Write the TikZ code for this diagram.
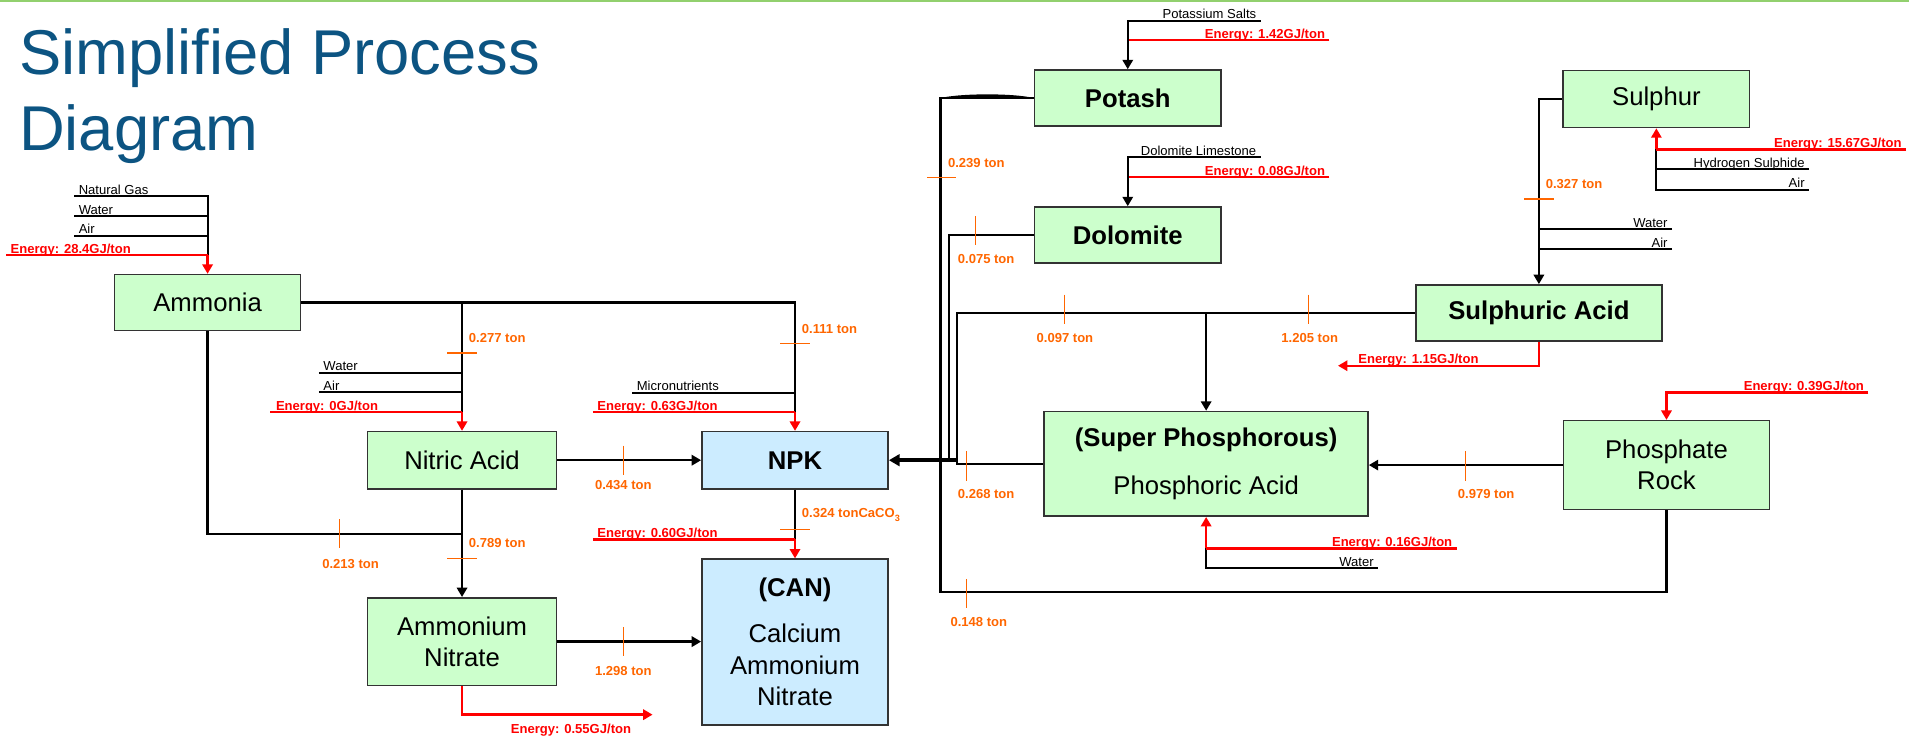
\documentclass[tikz,border=0pt]{standalone}
\usepackage{fontspec}
\setmainfont{Liberation Sans}
\usetikzlibrary{arrows.meta}
\definecolor{unitgreen}{RGB}{204,255,204}
\definecolor{prodblue}{RGB}{204,236,255}
\definecolor{tonorange}{RGB}{255,102,0}
\definecolor{titleblue}{RGB}{12,84,130}
\definecolor{slidegreen}{RGB}{146,208,110}
\newcommand{\boxfont}{\fontsize{6}{7.2}\selectfont}
\newcommand{\smallfont}{\fontsize{3.05}{3.6}\selectfont}
\tikzset{
  unitbox/.style={draw=black!80, line width=0.35pt, fill=unitgreen, minimum width=15.3mm,
    minimum height=4.6mm, inner sep=0pt, align=center, font=\boxfont},
  productbox/.style={unitbox, fill=prodblue},
  flow/.style={line width=0.55pt},
  busline/.style={line width=0.85pt, -{Triangle[length=2.5pt,width=2.7pt]}},
  feed/.style={line width=0.45pt},
  energy/.style={red, line width=0.55pt},
  arrowed/.style={-{Triangle[length=2.2pt,width=2.4pt]}},
  feedlabel/.style={font=\smallfont, inner sep=0pt, yshift=0.15mm},
  energylabel/.style={feedlabel, text=red, font=\smallfont\bfseries},
  tonlabel/.style={font=\smallfont\bfseries, text=tonorange, inner sep=0pt},
  tonmark/.style={tonorange, line width=0.3pt},
  titletext/.style={anchor=base west, inner sep=0pt, text=titleblue, font=\fontsize{14.8}{17.8}\selectfont},
}
\begin{document}
\begin{tikzpicture}[x=0.1mm, y=-0.1mm]
\useasboundingbox (0,0) rectangle (1568,606);
\draw[slidegreen, line width=0.5pt] (0,0.7) -- (1568,0.7);
\node[titletext] (title) at (15,61) {Simplified Process};
\node[titletext] (title2) at (15,124) {Diagram};

\node[unitbox] (ammonia) at (170.5,248.5) {Ammonia};
\node[unitbox, minimum width=15.5mm, minimum height=4.7mm] (nitric) at (379.5,378) {Nitric Acid};
\node[unitbox, minimum width=15.5mm, minimum height=7.2mm] (ammnit) at (379.5,527) {Ammonium\\Nitrate};
\node[productbox, minimum height=4.7mm, font=\boxfont\bfseries] (npk) at (653,378) {NPK};
\node[productbox, minimum height=13.6mm, font=\fontsize{6}{7.4}\selectfont] (can) at (653,527.3) {\textbf{(CAN)}\\[3.4pt]Calcium\\Ammonium\\Nitrate};
\node[unitbox, font=\boxfont\bfseries] (potash) at (926.3,80.5) {Potash};
\node[unitbox, font=\boxfont\bfseries] (dolomite) at (926.3,193) {Dolomite};
\node[unitbox, minimum height=4.7mm] (sulphur) at (1360.5,81.3) {Sulphur};
\node[unitbox, minimum width=20.2mm, font=\boxfont\bfseries] (sulacid) at (1264,257) {Sulphuric Acid};
\node[unitbox, minimum width=26.6mm, minimum height=8.6mm] (superphos) at (990.7,381) {\textbf{(Super Phosphorous)}\\[4.2pt]Phosphoric Acid};
\node[unitbox, minimum width=16.9mm, minimum height=7.3mm] (phosrock) at (1368.8,382) {Phosphate\\Rock};

% ammonia
\coordinate (ammgas) at (61,161);
\coordinate (ammwater) at (61,177.5);
\coordinate (ammair) at (61,193.5);
\coordinate (ammenergy) at (5,209.5);
\coordinate (ammheat) at (ammonia.north |- ammenergy);
\draw[feed] (ammgas) -| (ammheat);
\draw[feed] (ammwater) -- (ammwater -| ammheat);
\draw[feed] (ammair) -- (ammair -| ammheat);
\draw[energy] (ammenergy) -- (ammheat);
\draw[energy, arrowed] (ammheat) -- (ammonia.north);
\node[feedlabel, anchor=base west, xshift=0.3mm] (lgas) at (ammgas) {Natural Gas};
\node[feedlabel, anchor=base west, xshift=0.3mm] (lwater1) at (ammwater) {Water};
\node[feedlabel, anchor=base west, xshift=0.3mm] (lair1) at (ammair) {Air};
\node[energylabel, anchor=base west, xshift=0.3mm] (le1) at (ammenergy) {Energy: 28.4GJ/ton};

% nitric acid
\coordinate (nitbranch) at (nitric.north |- ammonia.east);
\coordinate (nitwater) at (262,306);
\coordinate (nitair) at (262,322);
\coordinate (nitenergy) at (222,338.5);
\coordinate (nitheat) at (nitric.north |- nitenergy);
\draw[flow] (nitbranch) -- (nitheat);
\draw[feed] (nitwater) -- (nitwater -| nitheat);
\draw[feed] (nitair) -- (nitair -| nitheat);
\draw[energy] (nitenergy) -- (nitheat);
\draw[energy, arrowed] (nitheat) -- (nitric.north);
\node[feedlabel, anchor=base west, xshift=0.3mm] (lwater2) at (nitwater) {Water};
\node[feedlabel, anchor=base west, xshift=0.3mm] (lair2) at (nitair) {Air};
\node[energylabel, anchor=base west, xshift=0.4mm] (le2) at (nitenergy) {Energy: 0GJ/ton};

% npk
\coordinate (npkbranch) at (npk.north |- ammonia.east);
\coordinate (micro) at (519.4,322.5);
\coordinate (npkenergy) at (487,338.5);
\coordinate (npkheat) at (npk.north |- npkenergy);
\draw[flow] (ammonia.east) -- (npkbranch) -- (npkheat);
\draw[feed] (micro) -- (micro -| npkheat);
\draw[energy] (npkenergy) -- (npkheat);
\draw[energy, arrowed] (npkheat) -- (npk.north);
\node[feedlabel, anchor=base west, xshift=0.3mm] (lmicro) at (micro) {Micronutrients};
\node[energylabel, anchor=base west, xshift=0.3mm] (le3) at (npkenergy) {Energy: 0.63GJ/ton};
\draw[flow, arrowed] (nitric.east) -- (npk.west);

% can
\coordinate (canenergy) at (487,443);
\coordinate (canheat) at (npk.south |- canenergy);
\draw[flow] (npk.south) -- (canheat);
\draw[energy] (canenergy) -- (canheat);
\draw[energy, arrowed] (canheat) -- (can.north);
\node[energylabel, anchor=base west, xshift=0.3mm] (le4) at (canenergy) {Energy: 0.60GJ/ton};

% ammonium nitrate
\coordinate (ammjoin) at (379.5,438.5);
\draw[flow] (ammonia.south) |- (ammjoin);
\draw[flow, arrowed] (nitric.south) -- (ammnit.north);
\draw[flow, arrowed] (ammnit.east) -- (ammnit.east -| can.west);
\coordinate (anenergy) at (536,587);
\draw[energy, arrowed] (ammnit.south) |- (anenergy);
\node[energylabel, yshift=-0.15mm] (le5) at (469,600) {Energy: 0.55GJ/ton};

% right side into npk
\coordinate (potbus) at (772.5,80.5);
\coordinate (dolbus) at (779.6,378);
\coordinate (sulbus) at (786,378);
\coordinate (phosbus) at (772.5,486);
\coordinate (mainbus) at (772.5,378);
\fill (potbus) .. controls (790,76.5) and (832,76.5) .. (potash.west) -- cycle;
\draw[flow] (potash.west) -- (potbus) -- (mainbus);
\draw[flow] (dolomite.west) -| (dolbus);
\draw[flow] (sulacid.west) -| (sulbus);
\draw[flow] (superphos.west) -| (sulbus);
\draw[flow] (phosrock.south) |- (phosbus) -- (mainbus);
\draw[busline] (sulbus) -- (npk.east);
\coordinate (sul2sp) at (superphos.north |- sulacid.west);
\draw[flow, arrowed] (sul2sp) -- (superphos.north);
\draw[flow, arrowed] (phosrock.west) -- (phosrock.west -| superphos.east);

% potash and dolomite
\coordinate (potsalts) at (1035.5,17);
\coordinate (potenergy) at (1092,33);
\draw[energy] (potenergy) -- (potenergy -| potash.north);
\draw[flow, arrowed] (potsalts) -| (potash.north);
\node[feedlabel, anchor=base east, xshift=-0.3mm] (lsalts) at (potsalts) {Potassium Salts};
\node[energylabel, anchor=base east, xshift=-0.3mm] (le6) at (potenergy) {Energy: 1.42GJ/ton};
\coordinate (dolstone) at (1035.5,129.2);
\coordinate (dolenergy) at (1092,145.4);
\draw[energy] (dolenergy) -- (dolenergy -| dolomite.north);
\draw[flow, arrowed] (dolstone) -| (dolomite.north);
\node[feedlabel, anchor=base east, xshift=-0.3mm] (lstone) at (dolstone) {Dolomite Limestone};
\node[energylabel, anchor=base east, xshift=-0.3mm] (le7) at (dolenergy) {Energy: 0.08GJ/ton};

% sulphur and sulphuric acid
\coordinate (sulenergy) at (1565.6,122.7);
\coordinate (h2s) at (1486,139);
\coordinate (sulair) at (1486,155.7);
\coordinate (sulheat) at (sulphur.south |- sulenergy);
\draw[feed] (sulheat) |- (sulair);
\draw[feed] (h2s) -- (h2s -| sulheat);
\draw[energy] (sulenergy) -- (sulheat);
\draw[energy, arrowed] (sulheat) -- (sulphur.south);
\node[energylabel, anchor=base east, xshift=-0.3mm] (le8) at (sulenergy) {Energy: 15.67GJ/ton};
\node[feedlabel, anchor=base east, xshift=-0.3mm] (lh2s) at (h2s) {Hydrogen Sulphide};
\node[feedlabel, anchor=base east, xshift=-0.3mm] (lair3) at (sulair) {Air};
\draw[flow, line width=0.65pt, arrowed] (sulphur.west) -| (sulacid.north);
\coordinate (sawater) at (1373.4,188.4);
\coordinate (saair) at (1373.4,204.4);
\draw[feed] (sawater) -- (sawater -| sulacid.north);
\draw[feed] (saair) -- (saair -| sulacid.north);
\node[feedlabel, anchor=base east, xshift=-0.3mm] (lwater3) at (sawater) {Water};
\node[feedlabel, anchor=base east, xshift=-0.3mm] (lair4) at (saair) {Air};
\coordinate (saenergy) at (1099,300.4);
\draw[energy, arrowed] (sulacid.south) |- (saenergy);
\node[energylabel, anchor=base west] (le9) at (1115,300.4) {Energy: 1.15GJ/ton};

% phosphoric acid and phosphate rock
\coordinate (spenergy) at (1196.5,450.4);
\coordinate (spwater) at (1132,466.8);
\coordinate (spheat) at (superphos.south |- spenergy);
\draw[feed] (spheat) |- (spwater);
\draw[energy] (spenergy) -- (spheat);
\draw[energy, arrowed] (spheat) -- (superphos.south);
\node[energylabel, anchor=base east, xshift=-0.3mm] (le10) at (spenergy) {Energy: 0.16GJ/ton};
\node[feedlabel, anchor=base east, xshift=-0.3mm] (lwater4) at (spwater) {Water};
\coordinate (prenergy) at (1534.7,322.3);
\draw[energy, arrowed] (prenergy) -| (phosrock.north);
\node[energylabel, anchor=base east, xshift=-0.3mm] (le11) at (prenergy) {Energy: 0.39GJ/ton};

% tonnages
\foreach \x/\y in {512/378, 279/438.5, 512/527, 801.4/189.5, 874.3/254, 1074.9/254, 793.6/382.7, 1204/382.7, 794/487.5}
  \draw[tonmark] (\x,\y-12) -- (\x,\y+12);
\foreach \x/\y in {653/282, 379.5/290, 379.5/459, 653/435, 773.5/145.7, 1264/163.4}
  \draw[tonmark] (\x-12,\y) -- (\x+12,\y);
\node[tonlabel, anchor=west] (t111) at (658,270) {0.111 ton};
\node[tonlabel, anchor=west] (t277) at (384.5,278) {0.277 ton};
\node[tonlabel] (t434) at (512,398) {0.434 ton};
\node[tonlabel] (t213) at (288,463) {0.213 ton};
\node[tonlabel, anchor=west] (t789) at (384.5,446) {0.789 ton};
\node[tonlabel] (t1298) at (512,551) {1.298 ton};
\node[tonlabel, anchor=west] (t324) at (658,423) {0.324 tonCaCO\textsubscript{3}};
\node[tonlabel, anchor=west] (t239) at (778,133.6) {0.239 ton};
\node[tonlabel] (t075) at (810,213) {0.075 ton};
\node[tonlabel] (t097) at (874.7,278) {0.097 ton};
\node[tonlabel] (t1205) at (1075.8,278) {1.205 ton};
\node[tonlabel, anchor=west] (t327) at (1269,151) {0.327 ton};
\node[tonlabel] (t268) at (810,406) {0.268 ton};
\node[tonlabel] (t979) at (1220.7,406) {0.979 ton};
\node[tonlabel] (t148) at (804,510.6) {0.148 ton};
\end{tikzpicture}
\end{document}
